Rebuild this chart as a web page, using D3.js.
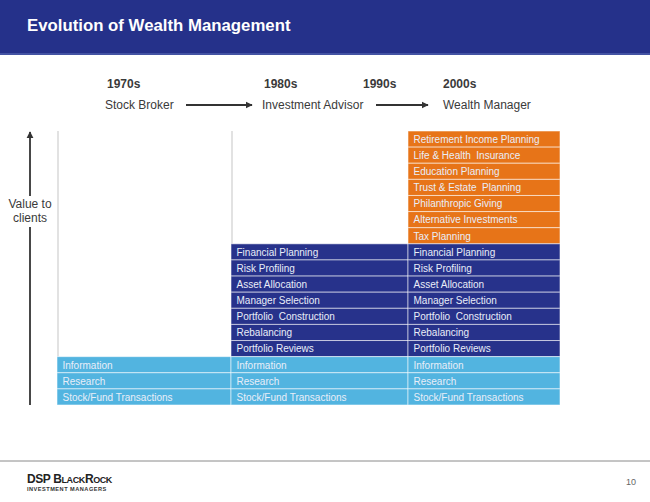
<!DOCTYPE html>
<html>
<head>
<meta charset="utf-8">
<script src="https://cdn.jsdelivr.net/npm/d3@7"></script>
<style>
  html, body { margin: 0; padding: 0; background: #fff; }
  svg { display: block; font-family: "Liberation Sans", Arial, sans-serif; }
</style>
</head>
<body>
<svg id="chart" width="650" height="502"></svg>
<script>
// ---- data ----
const title = "Evolution of Wealth Management";
const eras = ["1970s", "1980s", "1990s", "2000s"];
const roles = ["Stock Broker", "Investment Advisor", "Wealth Manager"];
const wealthServices = ["Retirement Income Planning", "Life & Health  Insurance", "Education Planning",
  "Trust & Estate  Planning", "Philanthropic Giving", "Alternative Investments", "Tax Planning"];
const advisoryServices = ["Financial Planning", "Risk Profiling", "Asset Allocation", "Manager Selection",
  "Portfolio  Construction", "Rebalancing", "Portfolio Reviews"];
const coreServices = ["Information", "Research", "Stock/Fund Transactions"];
const tiers = ["wealth", "advisory", "core"];
const roleTiers = [["core"], ["advisory", "core"], ["wealth", "advisory", "core"]];
const axisLabel = ["Value to", "clients"];
const pageNumber = "10";

// ---- layout ----
const svg = d3.select("#chart");
const tierServices = { wealth: wealthServices, advisory: advisoryServices, core: coreServices };
const tierColor = d3.scaleOrdinal().domain(tiers).range(["#E77418", "#27328B", "#52B4E0"]);
const allRows = tiers.flatMap(t => tierServices[t].map((s, i) => t + "|" + i));
const y = d3.scaleBand().domain(allRows).range([131, 405]).paddingInner(0);
const xLeft = d3.scaleOrdinal().domain(roles).range([57, 231, 408]);
const xRight = d3.scaleOrdinal().domain(roles).range([231, 408, 560]);

// header band
svg.append("rect").attr("x", 0).attr("y", 0).attr("width", 650).attr("height", 55).attr("fill", "#25318A");
svg.append("rect").attr("x", 0).attr("y", 53).attr("width", 650).attr("height", 2).attr("fill", "#4353a3");
svg.append("text").attr("x", 27).attr("y", 31).attr("fill", "#fff")
  .attr("font-size", 16.8).attr("font-weight", "bold").text(title);

// era + role labels
const eraX = d3.scaleOrdinal().domain(eras).range([107, 264, 363, 443]);
svg.selectAll("text.era").data(eras).join("text").attr("class", "era")
  .attr("x", d => eraX(d)).attr("y", 88).attr("fill", "#3a3a3a")
  .attr("font-size", 12).attr("font-weight", "bold").text(d => d);
const roleX = d3.scaleOrdinal().domain(roles).range([105, 262, 443]);
svg.selectAll("text.role").data(roles).join("text").attr("class", "role")
  .attr("x", d => roleX(d)).attr("y", 109).attr("fill", "#3a3a3a")
  .attr("font-size", 12).text(d => d);

// arrow markers
const defs = svg.append("defs");
defs.append("marker").attr("id", "ah").attr("viewBox", "0 0 10 10").attr("refX", 9).attr("refY", 5)
  .attr("markerWidth", 4).attr("markerHeight", 4).attr("orient", "auto")
  .append("path").attr("d", "M0,0 L10,5 L0,10 z").attr("fill", "#333");
[[186, 252], [376, 428]].forEach(([a, b]) => {
  svg.append("line").attr("x1", a).attr("x2", b).attr("y1", 105).attr("y2", 105)
    .attr("stroke", "#333").attr("stroke-width", 1.8).attr("marker-end", "url(#ah)");
});

// value-to-clients arrow
svg.append("line").attr("x1", 30).attr("x2", 30).attr("y1", 196).attr("y2", 132)
  .attr("stroke", "#333").attr("stroke-width", 1.8).attr("marker-end", "url(#ah)");
svg.append("line").attr("x1", 30).attr("x2", 30).attr("y1", 227).attr("y2", 405)
  .attr("stroke", "#333").attr("stroke-width", 1.8);
svg.selectAll("text.vlab").data(axisLabel).join("text").attr("class", "vlab")
  .attr("x", 30).attr("y", (d, i) => 208 + i * 14).attr("text-anchor", "middle")
  .attr("fill", "#3a3a3a").attr("font-size", 12).text(d => d);

// empty column frames
roles.forEach((r, ci) => {
  const firstTier = roleTiers[ci][0];
  const topRow = firstTier + "|0";
  if (y(topRow) > 131) {
    svg.append("line").attr("x1", xLeft(r) + 1).attr("x2", xLeft(r) + 1)
      .attr("y1", 131).attr("y2", y(topRow))
      .attr("stroke", "#e2e2e2").attr("stroke-width", 2);
  }
});

// cells
const cells = roles.flatMap((r, ci) => roleTiers[ci].flatMap(t =>
  tierServices[t].map((s, i) => ({ role: r, tier: t, key: t + "|" + i, label: s }))));
const g = svg.append("g");
g.selectAll("rect.cell").data(cells).join("rect").attr("class", "cell")
  .attr("x", d => xLeft(d.role)).attr("y", d => y(d.key))
  .attr("width", d => xRight(d.role) - xLeft(d.role)).attr("height", y.bandwidth())
  .attr("fill", d => tierColor(d.tier))
  .attr("stroke", "rgba(255,255,255,0.55)").attr("stroke-width", 1);
g.selectAll("text.cell").data(cells).join("text").attr("class", "cell")
  .attr("x", d => xLeft(d.role) + 5.5).attr("y", d => y(d.key) + y.bandwidth() / 2 + 3.8)
  .attr("fill", "#e9eef8").attr("font-size", 10).style("white-space", "pre")
  .attr("xml:space", "preserve").text(d => d.label);

// footer
svg.append("line").attr("x1", 0).attr("x2", 650).attr("y1", 461).attr("y2", 461)
  .attr("stroke", "#8a8a8a").attr("stroke-width", 1);
const logo = svg.append("text").attr("x", 27).attr("y", 483).attr("fill", "#222")
  .attr("font-family", "'Liberation Sans Narrow', 'Liberation Sans', Arial, sans-serif")
  .attr("font-weight", "bold").attr("letter-spacing", -0.4);
logo.append("tspan").attr("font-size", 12).text("DSP B");
logo.append("tspan").attr("font-size", 9).text("LACK");
logo.append("tspan").attr("font-size", 12).text("R");
logo.append("tspan").attr("font-size", 9).text("OCK");
svg.append("text").attr("x", 27).attr("y", 491).attr("fill", "#333")
  .attr("font-size", 5.6).attr("font-weight", "bold").attr("letter-spacing", 0.5)
  .text("INVESTMENT MANAGERS");
svg.append("text").attr("x", 626).attr("y", 485).attr("fill", "#666")
  .attr("font-size", 9).text(pageNumber);
</script>
</body>
</html>
